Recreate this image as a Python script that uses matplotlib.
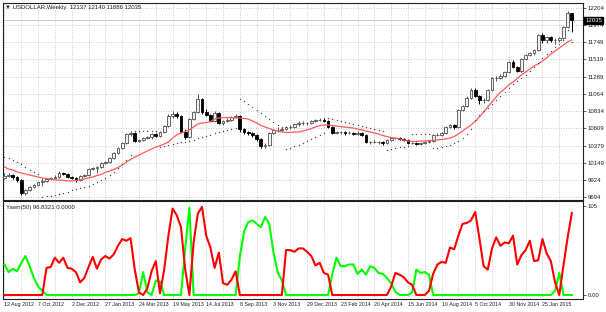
import numpy as np
import matplotlib
matplotlib.use("Agg")
import matplotlib.pyplot as plt

# weekly USDOLLAR candles, 12 Aug 2012 .. Mar 2015
opens = [9950, 9976, 9989, 9963, 9923, 9751, 9790, 9830, 9857, 9896,
         9910, 9936, 9949, 9963, 10015, 10002, 9963, 9949, 9923, 9976,
         9989, 10068, 10082, 10095, 10148, 10161, 10214, 10280, 10347, 10413,
         10532, 10545, 10439, 10452, 10479, 10492, 10532, 10505, 10558, 10638,
         10770, 10797, 10770, 10558, 10492, 10730, 10823, 10995, 10823, 10783,
         10704, 10810, 10678, 10704, 10717, 10757, 10770, 10598, 10558, 10545,
         10519, 10466, 10373, 10386, 10545, 10585, 10585, 10598, 10625, 10625,
         10664, 10678, 10678, 10678, 10704, 10717, 10717, 10704, 10625, 10545,
         10558, 10558, 10545, 10545, 10532, 10545, 10519, 10426, 10426, 10426,
         10426, 10413, 10452, 10479, 10479, 10466, 10452, 10413, 10413, 10400,
         10413, 10426, 10439, 10519, 10519, 10545, 10625, 10650, 10625, 10850,
         10903, 11008, 11114, 11035, 10982, 10982, 11114, 11273, 11273, 11300,
         11353, 11485, 11419, 11366, 11525, 11578, 11604, 11644, 11843, 11776,
         11816, 11776, 11776, 11803, 11949, 12137]
highs = [10010, 10015, 10000, 9980, 9935, 9805, 9845, 9870, 9910, 9950,
         9950, 9965, 9985, 10040, 10030, 10015, 9980, 9965, 9990, 10000,
         10085, 10100, 10110, 10165, 10180, 10230, 10295, 10365, 10430, 10550,
         10570, 10560, 10470, 10495, 10510, 10550, 10545, 10575, 10655, 10790,
         10830, 10820, 10785, 10600, 10745, 10840, 11060, 11010, 10860, 10800,
         10830, 10825, 10720, 10740, 10775, 10790, 10780, 10610, 10575, 10560,
         10530, 10480, 10410, 10560, 10600, 10620, 10625, 10640, 10650, 10680,
         10700, 10700, 10695, 10720, 10735, 10745, 10740, 10720, 10640, 10575,
         10575, 10570, 10570, 10555, 10565, 10560, 10530, 10445, 10450, 10445,
         10440, 10465, 10490, 10495, 10490, 10480, 10465, 10430, 10425, 10430,
         10440, 10455, 10535, 10545, 10560, 10640, 10660, 10660, 10860, 10920,
         11030, 11135, 11140, 11050, 11010, 11130, 11290, 11300, 11320, 11370,
         11500, 11505, 11430, 11540, 11595, 11620, 11660, 11860, 11865, 11835,
         11830, 11800, 11820, 11965, 12160, 12140]
lows = [9930, 9960, 9940, 9900, 9720, 9730, 9775, 9815, 9845, 9840,
        9895, 9920, 9935, 9950, 9990, 9950, 9935, 9900, 9910, 9960,
        9975, 10050, 10020, 10080, 10130, 10145, 10200, 10265, 10330, 10400,
        10505, 10425, 10420, 10435, 10460, 10470, 10490, 10490, 10545, 10625,
        10750, 10750, 10540, 10470, 10480, 10715, 10810, 10800, 10770, 10690,
        10690, 10660, 10650, 10690, 10700, 10740, 10560, 10530, 10520, 10490,
        10440, 10350, 10345, 10370, 10530, 10560, 10565, 10580, 10600, 10610,
        10640, 10650, 10655, 10660, 10690, 10700, 10690, 10610, 10530, 10530,
        10535, 10525, 10530, 10515, 10520, 10500, 10410, 10405, 10410, 10400,
        10380, 10400, 10440, 10460, 10450, 10440, 10400, 10395, 10380, 10390,
        10400, 10415, 10430, 10500, 10505, 10530, 10610, 10600, 10610, 10830,
        10890, 10990, 11020, 10930, 10940, 10970, 11100, 11230, 11255, 11285,
        11340, 11400, 11350, 11350, 11510, 11560, 11580, 11630, 11730, 11740,
        11750, 11720, 11750, 11790, 11930, 11886]
closes = [9976, 9989, 9963, 9923, 9751, 9790, 9830, 9857, 9896, 9910,
          9936, 9949, 9963, 10015, 10002, 9963, 9949, 9923, 9976, 9989,
          10068, 10082, 10095, 10148, 10161, 10214, 10280, 10347, 10413, 10532,
          10545, 10439, 10452, 10479, 10492, 10532, 10505, 10558, 10638, 10770,
          10797, 10770, 10558, 10492, 10730, 10823, 10995, 10823, 10783, 10704,
          10810, 10678, 10704, 10717, 10757, 10770, 10598, 10558, 10545, 10519,
          10466, 10373, 10386, 10545, 10585, 10585, 10598, 10625, 10625, 10664,
          10678, 10678, 10678, 10704, 10717, 10717, 10704, 10625, 10545, 10558,
          10558, 10545, 10545, 10532, 10545, 10519, 10426, 10426, 10426, 10426,
          10413, 10452, 10479, 10479, 10466, 10452, 10413, 10413, 10400, 10413,
          10426, 10439, 10519, 10519, 10545, 10625, 10650, 10625, 10850, 10903,
          11008, 11114, 11035, 10982, 10982, 11114, 11273, 11273, 11300, 11353,
          11485, 11419, 11366, 11525, 11578, 11604, 11644, 11843, 11776, 11816,
          11776, 11776, 11803, 11949, 12137, 12035]

# red moving average
ma_line = [10095, 10068, 10055, 10029, 10015, 10002, 9989, 9976, 9963, 9949,
           9943, 9936, 9923, 9923, 9916, 9910, 9910, 9916, 9923, 9936,
           9949, 9963, 9982, 9996, 10022, 10042, 10062, 10088, 10121, 10161,
           10194, 10227, 10254, 10280, 10307, 10333, 10360, 10373, 10399, 10426,
           10479, 10519, 10545, 10565, 10585, 10624, 10664, 10677, 10684, 10697,
           10730, 10744, 10750, 10750, 10750, 10744, 10744, 10737, 10730, 10704,
           10677, 10644, 10624, 10605, 10585, 10572, 10558, 10552, 10552, 10558,
           10558, 10572, 10585, 10605, 10624, 10644, 10651, 10651, 10644, 10638,
           10631, 10624, 10618, 10611, 10598, 10585, 10572, 10558, 10545, 10532,
           10512, 10499, 10485, 10479, 10466, 10452, 10439, 10433, 10433, 10439,
           10439, 10446, 10446, 10452, 10459, 10466, 10479, 10499, 10532, 10572,
           10611, 10651, 10697, 10757, 10823, 10889, 10955, 11022, 11088, 11128,
           11181, 11220, 11267, 11313, 11353, 11392, 11432, 11459, 11498, 11538,
           11591, 11631, 11670, 11710, 11750, 11776]

# parabolic SAR dots
sar = [10227, 10214, 10188, 10161, 10135, 10095, 10055, 10029, 10002,
       9698, 9711, 9711, 9724, 9737, 9751, 9764, 9790, 9804, 9817, 9830,
       9843, 9870, 9896, 9923, 9949, 9989, 10029, 10082, 10135, 10188, 10254,
       10572, 10572, 10572, 10572, 10572, 10572,
       10360, 10373, 10386, 10400, 10413, 10426, 10426,
       10439, 10452, 10479, 10492, 10505, 10519, 10545, 10558, 10572, 10585, 10598, 10611,
       10995, 10969, 10929, 10889, 10850, 10810, 10770, 10730, 10691, 10651, 10625,
       10333, 10347, 10373, 10386, 10413, 10439, 10466, 10492, 10519, 10545,
       10744, 10730, 10717, 10704, 10691, 10678, 10664, 10651, 10638, 10625, 10611, 10598, 10585, 10572,
       10320, 10333, 10347, 10360, 10360, 10373,
       10532, 10532, 10532, 10532, 10532,
       10347, 10347, 10360, 10373, 10386, 10413, 10439, 10479, 10532, 10598,
       10717, 10783, 10836, 10876, 10929, 10982, 11035, 11088, 11141, 11194,
       11234, 11273, 11313, 11366, 11419, 11472, 11538, 11591, 11631, 11684,
       11724, 11776, 11909, 11750]

# Yawn(50) indicator buffers
yawn_red = [0, 0, 0, 0, 0, 0, 0, 0, 0, 0,
            32, 33, 44, 38, 44, 32, 31, 27, 15, 20,
            33, 45, 31, 42, 46, 43, 48, 58, 66, 64,
            67, 30, 3, 0, 8, 28, 40, 2, 30, 70,
            102, 94, 80, 30, 0, 62, 96, 104, 70, 56,
            32, 50, 14, 12, 18, 28, 0, 0, 0, 0,
            0, 0, 0, 0, 0, 0, 0, 53, 53, 51,
            55, 55, 51, 46, 35, 38, 26, 24, 0, 0,
            0, 0, 0, 0, 0, 0, 0, 0, 0, 0,
            0, 0, 10, 26, 24, 21, 15, 12, 0, 0,
            0, 5, 25, 36, 39, 38, 56, 54, 70, 84,
            85, 88, 98, 67, 34, 30, 55, 68, 58, 62,
            61, 70, 36, 47, 53, 64, 40, 41, 66, 49,
            40, 15, 0, 35, 68, 96.83]
yawn_green = [36, 27, 31, 28, 38, 46, 34, 20, 10, 5,
              0, 0, 0, 0, 0, 0, 0, 0, 0, 0,
              0, 0, 0, 0, 0, 0, 0, 0, 0, 0,
              0, 0, 2, 27, 3, 0, 17, 16, 0, 0,
              0, 0, 0, 55, 103, 0, 0, 0, 0, 0,
              0, 0, 0, 0, 0, 0, 45, 75, 86, 88,
              84, 80, 92, 84, 50, 27, 17, 0, 0, 0,
              0, 0, 0, 0, 0, 0, 0, 0, 25, 44,
              34, 34, 36, 36, 25, 30, 24, 34, 32, 26,
              25, 20, 14, 4, 0, 0, 0, 3, 30, 26,
              27, 24, 0, 0, 0, 0, 0, 0, 0, 0,
              0, 0, 0, 0, 0, 0, 0, 0, 0, 0,
              0, 0, 0, 0, 0, 0, 0, 0, 0, 0,
              0, 5, 26, 0, 0, 0]

date_labels = ["12 Aug 2012", "7 Oct 2012", "2 Dec 2012", "27 Jan 2013",
               "24 Mar 2013", "19 May 2013", "14 Jul 2013", "8 Sep 2013",
               "3 Nov 2013", "29 Dec 2013", "23 Feb 2014", "20 Apr 2014",
               "15 Jun 2014", "10 Aug 2014", "5 Oct 2014", "30 Nov 2014",
               "25 Jan 2015"]
price_ticks = [12204, 11974, 11749, 11519, 11289, 11064, 10834, 10609,
               10379, 10149, 9924, 9694]

plt.rcParams['font.family'] = ['Liberation Sans', 'DejaVu Sans']
FS = 4.3
FS_DATE = 3.8

W, H = 606, 312
fig = plt.figure(figsize=(W / 100, H / 100), dpi=100)
fig.patch.set_facecolor('white')


def px_axes(x0, y0, x1, y1):
    return fig.add_axes([x0 / W, 1 - y1 / H, (x1 - x0) / W, (y1 - y0) / H])


ax = px_axes(3, 3, 583, 200)
ax2 = px_axes(3, 201, 583, 299)

o = np.array(opens, dtype=float)
h = np.array(highs, dtype=float)
l = np.array(lows, dtype=float)
c = np.array(closes, dtype=float)
x = np.arange(len(c))
up = c >= o

grid_kw = dict(color='#b8b8b8', lw=0.6, linestyle=(0, (1, 2)))

for a in (ax, ax2):
    a.set_xlim(-0.35, 137.65)
    a.set_xticks(np.arange(0, 129, 8))
    a.set_xticks(np.arange(4, 136, 8), minor=True)
    a.grid(True, axis='x', which='both', **grid_kw)
    a.set_axisbelow(True)
    for s in a.spines.values():
        s.set_color('#202020')
        s.set_linewidth(0.8)
    a.yaxis.tick_right()
    a.tick_params(axis='y', labelsize=FS, length=2, width=0.5, pad=1.5,
                  colors='#202020')
    a.tick_params(axis='x', which='both', length=0)

# main price panel
ax.set_ylim(9658, 12266)
ax.set_yticks(price_ticks)
ax.set_yticklabels([str(v) for v in price_ticks])
ax.grid(True, axis='y', **grid_kw)
ax.set_xticklabels([])
ax.axhline(c[-1], color='#c8c8c8', lw=0.7)

ax.vlines(x[up], l[up], h[up], color='#555555', lw=0.7)
ax.vlines(x[~up], l[~up], h[~up], color='black', lw=0.7)
ax.bar(x[up], c[up] - o[up], bottom=o[up], width=0.66,
       facecolor='#f0f0f0', edgecolor='#505050', lw=0.6, zorder=3)
ax.bar(x[~up], o[~up] - c[~up], bottom=c[~up], width=0.66,
       facecolor='black', edgecolor='black', lw=0.6, zorder=3)

ax.plot(x, ma_line, color='#ff5a5a', lw=0.9, zorder=4)
ax.scatter(x, sar, s=1.0, color='#505050', zorder=4, linewidths=0)

ax.text(1.004, c[-1], f"{int(c[-1])}", transform=ax.get_yaxis_transform(),
        color='white', fontsize=FS, va='center', ha='left',
        bbox=dict(boxstyle='square,pad=0.15', fc='black', ec='black'),
        zorder=10, clip_on=False)

fig.text(5 / W, 1 - 7.5 / H,
         "▼ USDOLLAR,Weekly  12137 12140 11886 12035",
         fontsize=FS, va='center', ha='left', color='#202020')

# indicator panel
ax2.set_ylim(-4.7, 110.9)
ax2.set_yticks([105, 0])
ax2.set_yticklabels(["105", "0.00"])
ax2.plot(x, yawn_green, color='#00ff00', lw=1.5, zorder=3)
ax2.plot(x, yawn_red, color='#ff0000', lw=1.5, zorder=4)
ax2.set_xticklabels(date_labels, ha='left', fontsize=FS_DATE, color='#202020')
ax2.tick_params(axis='x', pad=2.5)
fig.text(6 / W, 1 - 208 / H, "Yawn(50) 96.8321 0.0000",
         fontsize=FS, va='center', ha='left', color='#202020')

fig.savefig("out.png", dpi=100, facecolor='white')
